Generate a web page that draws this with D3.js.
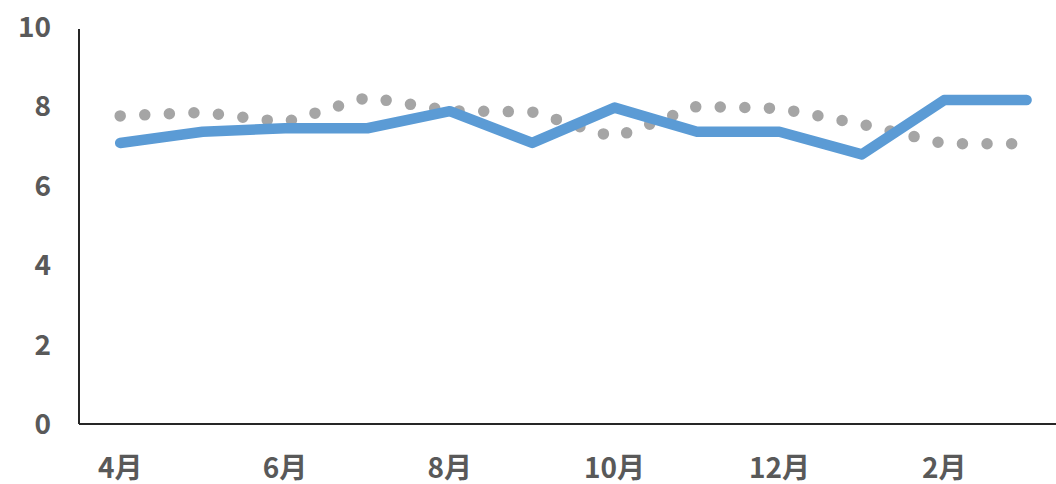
<!DOCTYPE html>
<html>
<head>
<meta charset="utf-8">
<title>Monthly chart</title>
<style>
  body { margin: 0; background: #fff; }
  .lbl { font-family: "Noto Sans CJK JP", "Noto Sans", sans-serif; font-weight: bold; font-size: 28px; fill: #595959; }
</style>
<script src="https://d3js.org/d3.v7.min.js"></script>
</head>
<body>
<svg width="1056" height="484"></svg>
<script>
// data
var months = ["4月","5月","6月","7月","8月","9月","10月","11月","12月","1月","2月","3月"];
var blueVals = [7.08, 7.36, 7.45, 7.45, 7.88, 7.08, 7.97, 7.36, 7.36, 6.79, 8.16, 8.16];
var grayVals = [7.76, 7.85, 7.6, 8.23, 7.89, 7.86, 7.22, 8.0, 7.95, 7.55, 7.06, 7.06];
var yTicks = [0, 2, 4, 6, 8, 10];
var xLabelMonths = ["4月","6月","8月","10月","12月","2月"];

var svg = d3.select("svg");
var plotLeft = 79, plotBottom = 424, plotTop = 27;

var x = d3.scaleBand().domain(months).range([plotLeft, plotLeft + 12 * 82.4]).padding(0);
var y = d3.scaleLinear().domain([0, 10]).range([plotBottom, plotTop]);
var cx = function(m) { return x(m) + x.bandwidth() / 2; };

// axes lines
svg.append("line").attr("x1", plotLeft).attr("x2", plotLeft).attr("y1", 29).attr("y2", plotBottom)
   .attr("stroke", "#262626").attr("stroke-width", 2);
svg.append("line").attr("x1", plotLeft).attr("x2", 1056).attr("y1", plotBottom).attr("y2", plotBottom)
   .attr("stroke", "#262626").attr("stroke-width", 2);

// y labels
svg.selectAll(".ylab").data(yTicks).enter().append("text")
   .attr("class", "lbl")
   .attr("x", 51).attr("y", function(d) { return y(d) - 2; })
   .attr("text-anchor", "end").attr("dominant-baseline", "central")
   .text(function(d) { return d; });

// x labels
svg.selectAll(".xlab").data(xLabelMonths).enter().append("text")
   .attr("class", "lbl")
   .attr("x", function(d) { return cx(d); }).attr("y", 466)
   .attr("text-anchor", "middle").attr("dominant-baseline", "central")
   .text(function(d) { return d; });

var line = d3.line()
   .x(function(d, i) { return cx(months[i]); })
   .y(function(d) { return y(d); });

svg.append("path").datum(grayVals)
   .attr("d", line).attr("fill", "none")
   .attr("stroke", "#A5A5A5").attr("stroke-width", 11.5)
   .attr("stroke-linecap", "round").attr("stroke-dasharray", "0 24.6");

svg.append("path").datum(blueVals)
   .attr("d", line).attr("fill", "none")
   .attr("stroke", "#5B9BD5").attr("stroke-width", 10.5)
   .attr("stroke-linecap", "round").attr("stroke-linejoin", "round");
</script>
</body>
</html>
